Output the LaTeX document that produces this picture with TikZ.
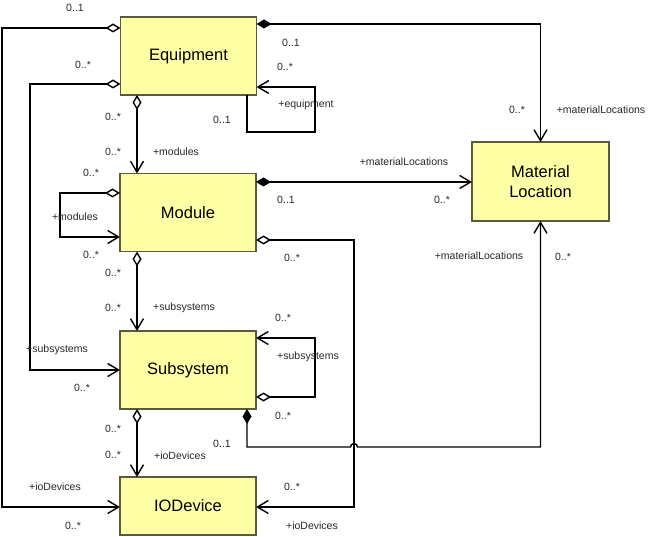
\documentclass[tikz,border=0pt]{standalone}
\usepackage{fontspec}
\setmainfont{Liberation Sans}
\usetikzlibrary{arrows.meta}
\definecolor{boxfill}{RGB}{255,255,165}
\definecolor{boxline}{RGB}{90,90,60}
\definecolor{lblcol}{RGB}{40,40,40}
\begin{document}
\begin{tikzpicture}[x=1pt,y=-1pt,
  cls/.style={draw=boxline, fill=boxfill, line width=1.3pt, minimum width=136pt, minimum height=78pt, inner sep=0pt, outer sep=0pt, font=\fontsize{16.5}{20}\selectfont, align=center},
  lbl/.style={font=\fontsize{10.5}{12}\selectfont, text=lblcol, inner sep=0pt},
  conn/.style={line width=1.4pt, black},
  agg/.style={conn, {Diamond[open,length=15pt,width=9pt]}-{Straight Barb[length=11pt,width=13pt]}},
  comp/.style={conn, {Diamond[length=15pt,width=9pt]}-{Straight Barb[length=11pt,width=13pt]}},
  nav/.style={conn, -{Straight Barb[length=11pt,width=13pt]}}
]
\fill[white] (0,0) rectangle (648,537);
\useasboundingbox (0,0) rectangle (648,537);

\node[cls] (eq) at (188.5,56) {Equipment};
\node[cls] (mo) at (188,212.5) {Module};
\node[cls] (ss) at (188,370) {Subsystem};
\node[cls,minimum height=58pt] (io) at (188,506) {IODevice};
\node[cls,minimum width=137pt,minimum height=79pt] (ml) at (540.5,181.5) {Material\\Location};

% connectors
\draw[agg] (eq.west |- 0,28) -- (2,28) |- (io.west |- 0,507);
\draw[agg] (eq.west |- 0,84) -- (30,84) |- (ss.west);
\draw[agg] (eq.south -| 137,0) -- (mo.north -| 137,0);
\draw[nav] (eq.south -| 247,0) -- (247,132) -- (315,132) |- (eq.east |- 0,87);
\draw[comp] (eq.east |- 0,24) -| (ml.north);
\draw[comp] (mo.east |- 0,182) -- (ml.west |- 0,182);
\draw[agg] (mo.west |- 0,193) -- (60,193) |- (mo.west |- 0,237);
\draw[agg] (mo.south -| 137,0) -- (ss.north -| 137,0);
\draw[agg] (mo.east |- 0,240) -- (354,240) |- (io.east |- 0,507);
\draw[agg] (ss.east |- 0,397) -- (315,397) |- (ss.east |- 0,338);
\draw[comp] (ss.south -| 247,0) -- (247,447) -- (350.5,447) arc[start angle=180,end angle=0,radius=3.5pt] -- (ml.south |- 0,447) -- (ml.south);
\draw[agg] (ss.south -| 137,0) -- (io.north -| 137,0);

% labels
\node[lbl] (l1) at (75,8) {0..1};
\node[lbl] (l2) at (291,43) {0..1};
\node[lbl] (l3) at (285,67) {0..*};
\node[lbl] (l4) at (83,65) {0..*};
\node[lbl] (l5) at (113,117) {0..*};
\node[lbl] (l6) at (222,120) {0..1};
\node[lbl] (l7) at (113,152) {0..*};
\node[lbl] (l8) at (176,152) {+modules};
\node[lbl] (l9) at (306,105) {+equipment};
\node[lbl] (l10) at (91,173) {0..*};
\node[lbl] (l11) at (517,110) {0..*};
\node[lbl] (l12) at (601,110) {+materialLocations};
\node[lbl] (l13) at (404,162) {+materialLocations};
\node[lbl] (l14) at (75,217) {+modules};
\node[lbl] (l15) at (91,255) {0..*};
\node[lbl] (l16) at (286,200) {0..1};
\node[lbl] (l17) at (292,258) {0..*};
\node[lbl] (l18) at (113,273) {0..*};
\node[lbl] (l19) at (113,308) {0..*};
\node[lbl] (l20) at (184,308) {+subsystems};
\node[lbl] (l21) at (442,200) {0..*};
\node[lbl] (l22) at (479,256) {+materialLocations};
\node[lbl] (l23) at (563,257) {0..*};
\node[lbl] (l24) at (283,318) {0..*};
\node[lbl] (l25) at (57,350) {+subsystems};
\node[lbl] (l26) at (82,388) {0..*};
\node[lbl] (l27) at (308,357) {+subsystems};
\node[lbl] (l28) at (283,416) {0..*};
\node[lbl] (l29) at (113,429) {0..*};
\node[lbl] (l30) at (222,444) {0..1};
\node[lbl] (l31) at (113,455) {0..*};
\node[lbl] (l32) at (180,456) {+ioDevices};
\node[lbl] (l33) at (55,487) {+ioDevices};
\node[lbl] (l34) at (73,526) {0..*};
\node[lbl] (l35) at (292,487) {0..*};
\node[lbl] (l36) at (312,526) {+ioDevices};
\end{tikzpicture}
\end{document}
